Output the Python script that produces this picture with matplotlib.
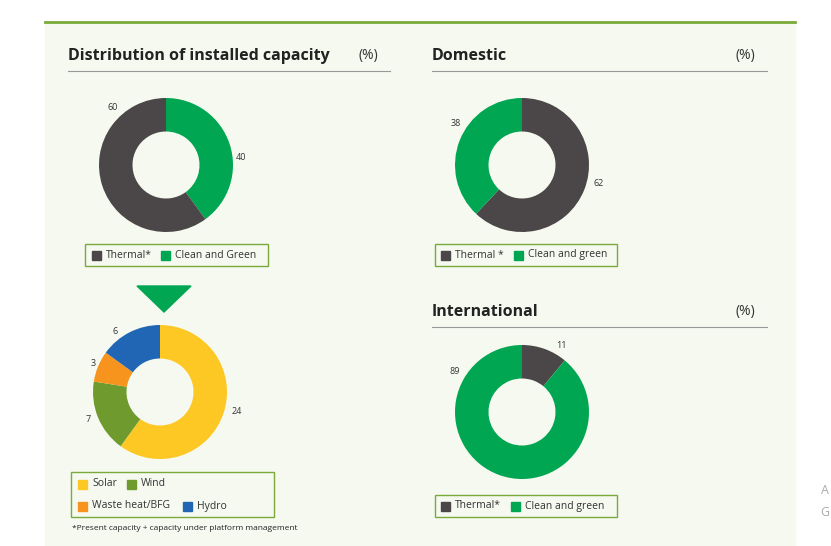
import matplotlib.pyplot as plt
from matplotlib.patches import Rectangle, Polygon

plt.rcParams['font.family'] = ['Open Sans', 'DejaVu Sans']

W, H = 831, 546
DARK = '#4b4647'
GREEN = '#00a651'
BORDER = '#7aab3a'

dist_labels = ['Thermal*', 'Clean and Green']
dist_values = [60, 40]
dom_labels = ['Thermal *', 'Clean and green']
dom_values = [62, 38]
intl_labels = ['Thermal*', 'Clean and green']
intl_values = [11, 89]
green_labels = ['Solar', 'Wind', 'Waste heat/BFG', 'Hydro']
green_values = [24, 7, 3, 6]
green_colors = ['#fdc823', '#6e9a2e', '#f7941d', '#2166b5']

fig = plt.figure(figsize=(W / 100, H / 100), dpi=100)
bg = fig.add_axes([0, 0, 1, 1])
bg.set_xlim(0, W)
bg.set_ylim(H, 0)
bg.axis('off')
bg.add_patch(Rectangle((45, 22), 750, 530, color='#f6f9f0', zorder=0))
bg.plot([45, 795], [22, 22], color=BORDER, lw=2)


def donut(cx, cy, vals, colors, labpos, r=67):
    ax = fig.add_axes([(cx - r) / W, 1 - (cy + r) / H, 2 * r / W, 2 * r / H])
    ax.pie(vals, colors=colors, startangle=90, counterclock=False,
           wedgeprops=dict(width=0.5, edgecolor='none'))
    ax.set_xlim(-1, 1)
    ax.set_ylim(-1, 1)
    ax.set_aspect('equal')
    for v, (x, y) in zip(vals, labpos):
        bg.text(x, y, str(v), fontsize=6.5, color='#333333', ha='center', va='center')


def title(x0, x1, y, txt):
    bg.text(x0, y, txt, fontsize=11.5, fontweight='bold', color='#222222', va='center')
    bg.text(x1 - 12, y, '(%)', fontsize=10, color='#333333', va='center', ha='right')
    bg.plot([x0, x1], [y + 15, y + 15], color='#999999', lw=0.8)


def legend_box(x, y, w, h, items):
    bg.add_patch(Rectangle((x, y), w, h, fill=False, edgecolor=BORDER, lw=1))
    for (ix, iy, col, txt) in items:
        bg.add_patch(Rectangle((ix, iy - 4.5), 9, 9, color=col))
        bg.text(ix + 14, iy, txt, fontsize=7.5, color='#333333', va='center')


title(68, 390, 56, 'Distribution of installed capacity')
title(432, 767, 56, 'Domestic')
title(432, 767, 312, 'International')

# clean and green drawn first so it sits on the right, clockwise from top
donut(166, 165, dist_values[::-1], [GREEN, DARK], [(241, 158), (113, 107)])
donut(522, 165, dom_values, [DARK, GREEN], [(599, 184), (456, 124)])
donut(522, 412, intl_values, [DARK, GREEN], [(561, 346), (455, 372)])
donut(160, 392, green_values, green_colors, [(237, 411), (88, 419), (93, 364), (115, 331)])

bg.add_patch(Polygon([(137, 286), (191, 286), (164, 312)], color=GREEN))

legend_box(85, 244, 183, 22, [(92, 255, DARK, dist_labels[0]), (161, 255, GREEN, dist_labels[1])])
legend_box(435, 244, 182, 22, [(441, 255, DARK, dom_labels[0]), (514, 255, GREEN, dom_labels[1])])
legend_box(435, 495, 182, 22, [(441, 506, DARK, intl_labels[0]), (511, 506, GREEN, intl_labels[1])])
legend_box(71, 472, 203, 45, [(78, 484, green_colors[0], green_labels[0]),
                              (127, 484, green_colors[1], green_labels[1]),
                              (78, 506, green_colors[2], green_labels[2]),
                              (183, 506, green_colors[3], green_labels[3])])

bg.text(72, 529, '*Present capacity + capacity under platform management', fontsize=6, color='#222222', va='center')
bg.text(825, 491, 'A', fontsize=9, color='#aaaaaa', va='center', ha='center')
bg.text(825, 513, 'G', fontsize=9, color='#aaaaaa', va='center', ha='center')

fig.savefig('out.png', dpi=100)
